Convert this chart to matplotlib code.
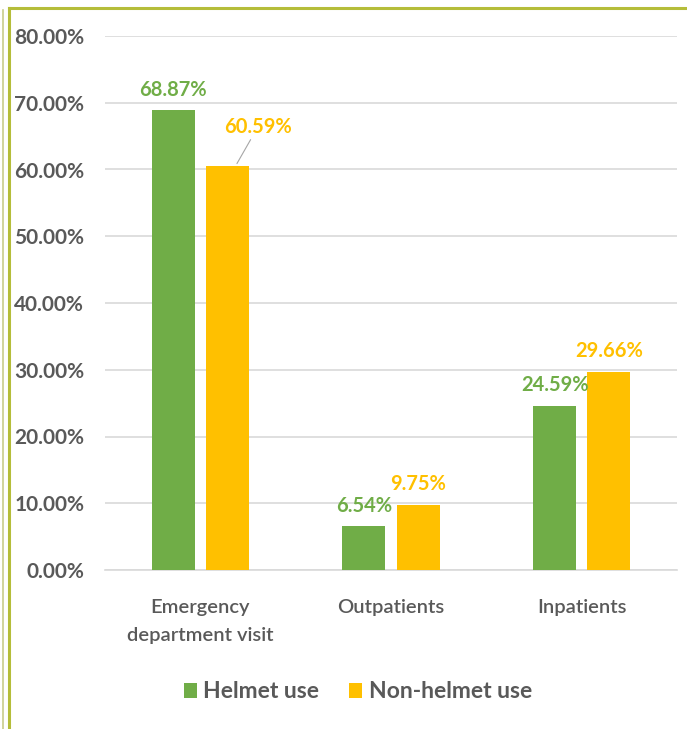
import numpy as np
import matplotlib.pyplot as plt
from matplotlib.lines import Line2D

categories = ['Emergency\ndepartment visit', 'Outpatients', 'Inpatients']
helmet = [68.87, 6.54, 24.59]
non_helmet = [60.59, 9.75, 29.66]
series_names = ['Helmet use', 'Non-helmet use']
colors = ['#70AD47', '#FFC000']
yticks = [0, 10, 20, 30, 40, 50, 60, 70, 80]

plt.rcParams['font.family'] = ['Lato', 'DejaVu Sans']

W, H = 687, 729
fig = plt.figure(figsize=(W / 100, H / 100), dpi=100)
ax = fig.add_axes([105 / W, 1 - 570 / H, 572 / W, 534 / H])

x = np.arange(len(categories))
bw = 0.225
off = 0.142
b1 = ax.bar(x - off, helmet, bw, color=colors[0], label=series_names[0], zorder=3)
b2 = ax.bar(x + off, non_helmet, bw, color=colors[1], label=series_names[1], zorder=3)

ax.set_xlim(-0.5, len(categories) - 0.5)
ax.set_ylim(0, 80)
ax.set_yticks(yticks)
ax.set_yticklabels(['{:.2f}%'.format(v) for v in yticks])
ax.set_xticks(x)
ax.set_xticklabels(categories, linespacing=1.75)
ax.tick_params(axis='y', length=0, pad=15, labelsize=15, labelcolor='#595959')
ax.tick_params(axis='x', length=0, pad=21, labelsize=14.5, labelcolor='#595959')
for lab in ax.get_yticklabels():
    lab.set_fontweight('bold')
for lab in ax.get_xticklabels():
    lab.set_fontweight('semibold')
ax.grid(axis='y', color='#D9D9D9', linewidth=1.2, zorder=0)
for s in ['top', 'right', 'left']:
    ax.spines[s].set_visible(False)
ax.spines['bottom'].set_color('#D9D9D9')
ax.spines['bottom'].set_linewidth(1.2)

# data labels
for bars, vals, c in [(b1, helmet, colors[0]), (b2, non_helmet, colors[1])]:
    for i, (b, v) in enumerate(zip(bars, vals)):
        cx = b.get_x() + b.get_width() / 2
        if bars is b2 and i == 0:
            ax.annotate('{:.2f}%'.format(v), xy=(cx + 0.05, v + 0.3), xytext=(cx + 0.16, v + 4.3),
                        ha='center', va='bottom', color=c, fontsize=14.5, fontweight='bold',
                        arrowprops=dict(arrowstyle='-', color='#A6A6A6', lw=0.8, shrinkA=0, shrinkB=0))
        else:
            ax.text(cx, v + 1.6, '{:.2f}%'.format(v), ha='center', va='bottom',
                    color=c, fontsize=14.5, fontweight='bold')

leg = fig.legend(loc='center', bbox_to_anchor=(358 / W, 1 - 692 / H), ncol=2, frameon=False,
                 fontsize=16.5, handlelength=0.57, handleheight=0.65, handletextpad=0.3,
                 columnspacing=1.3)
for t in leg.get_texts():
    t.set_color('#595959')
    t.set_fontweight('bold')

# frame lines
olive = '#B5BD3A'
fig.add_artist(Line2D([8.5 / W, 1], [1 - 7.5 / H, 1 - 7.5 / H], color=olive, lw=2.2))
fig.add_artist(Line2D([8.5 / W, 8.5 / W], [0, 1 - 7.5 / H], color=olive, lw=2.2))
fig.add_artist(Line2D([2.5 / W, 2.5 / W], [0, 1 - 10 / H], color='#C8CC8A', lw=1.2))

fig.savefig('out.png', dpi=100)
